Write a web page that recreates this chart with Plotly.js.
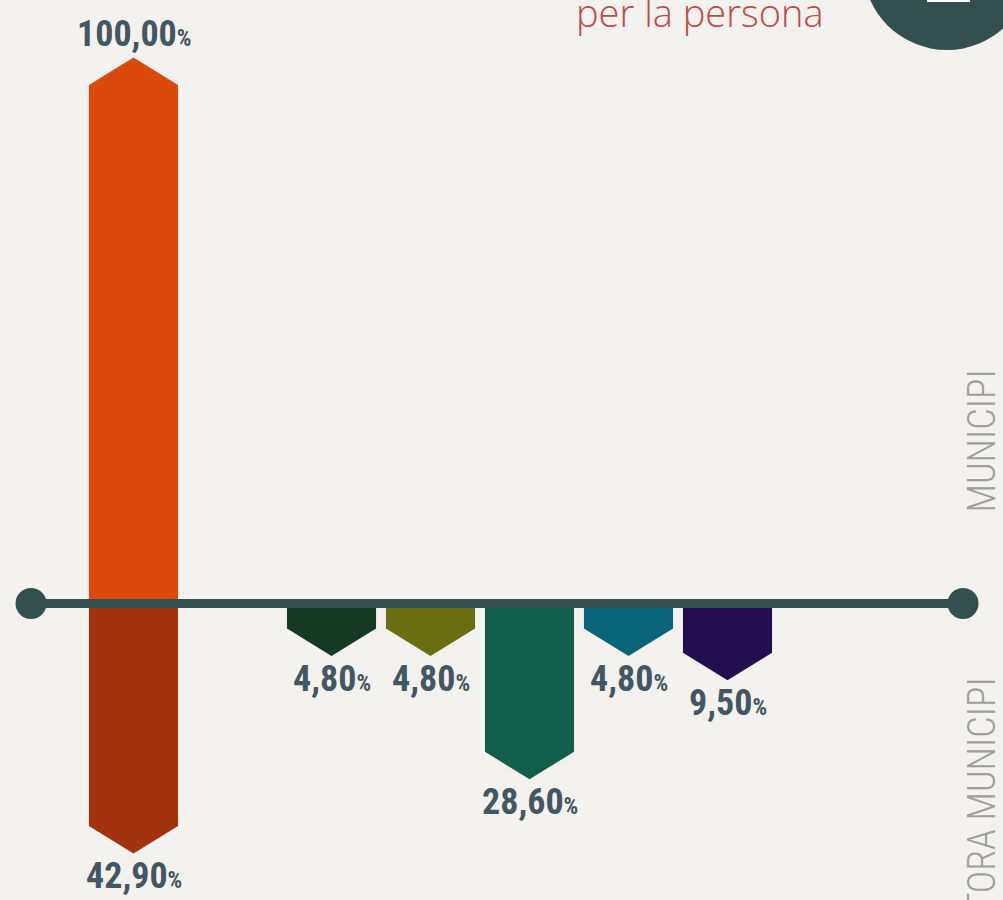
<!DOCTYPE html>
<html>
<head>
<meta charset="utf-8">
<script src="https://cdn.plot.ly/plotly-3.0.1.min.js"></script>
<style>
  html, body { margin: 0; padding: 0; background: #F3F2EE; }
  #chart { width: 1003px; height: 900px; }
</style>
</head>
<body>
<div id="chart"></div>
<script>
// ---- data ----
const slots = [0, 1, 2, 3, 4, 5, 6, 7, 8];
const topValues = [100.0, null, null, null, null, null, null, null, null];
const bottomValues = [42.9, null, 4.8, 4.8, 28.6, 4.8, 9.5, null, null];
const topColors = ['#DB4A0A'];
const bottomColors = ['#A3320E', null, '#143A24', '#6B6E10', '#115E4D', '#0A6479', '#230F50', null, null];
const titleText = 'per la persona';
const sideTop = 'MUNICIPI';
const sideBottom = 'TORA MUNICIPI';

// ---- drawing ----
const HALF = 0.45;   // half bar width in slot units
const TIP = 5.3;     // arrow tip height in value units
const labelColor = '#435663';
const COND = 'Roboto Condensed, Liberation Sans Narrow, DejaVu Sans, sans-serif';

function fmt(v) {
  return '<span style="font-stretch:condensed">' + v.toFixed(2).replace('.', ',') +
         '<span style="font-size:23px">%</span></span>';
}

function arrowTrace(c, v, dir, color) {
  const s = dir;
  return {
    type: 'scatter', mode: 'lines', fill: 'toself', fillcolor: color,
    line: { width: 0, color: color }, hoverinfo: 'skip', showlegend: false,
    x: [c - HALF, c - HALF, c, c + HALF, c + HALF, c - HALF],
    y: [0, s * v, s * (v + TIP), s * v, 0, 0]
  };
}

const traces = [];
const annotations = [];
const labelFont = { family: COND, size: 36, color: labelColor, weight: 700 };
slots.forEach((k, i) => {
  const tv = topValues[i];
  if (tv != null) {
    traces.push(arrowTrace(k, tv, 1, topColors[i]));
    annotations.push({
      x: k, y: tv + TIP, xref: 'x', yref: 'y', yanchor: 'bottom', xanchor: 'center',
      yshift: 1, showarrow: false, text: fmt(tv), font: labelFont
    });
  }
  const bv = bottomValues[i];
  if (bv != null) {
    traces.push(arrowTrace(k, bv, -1, bottomColors[i]));
    annotations.push({
      x: k, y: -(bv + TIP), xref: 'x', yref: 'y', yanchor: 'top', xanchor: 'center',
      yshift: 0, showarrow: false, text: fmt(bv), font: labelFont
    });
  }
});

// axis line with end dots
const xr = [-1.3485, 8.7828];
traces.push({
  type: 'scatter', mode: 'lines+markers', hoverinfo: 'skip', showlegend: false,
  x: [-1.035, 8.379], y: [0, 0],
  line: { color: '#344F50', width: 9 },
  marker: { color: '#344F50', size: 31 }
});

annotations.push({
  xref: 'paper', yref: 'paper', x: 826 / 1003, y: 1 + 16 / 900, xanchor: 'right', yanchor: 'top',
  showarrow: false, text: titleText,
  font: { family: 'Open Sans, sans-serif', size: 38, color: '#BF4A4A', weight: 300 }
});
annotations.push({
  xref: 'paper', yref: 'paper', x: 1 + 2 / 1003, y: 1 - 368 / 900, xanchor: 'right', yanchor: 'top',
  textangle: -90, showarrow: false,
  text: '<span style="font-stretch:condensed">' + sideTop + '</span>',
  font: { family: COND, size: 38, color: '#A09F9C', weight: 300 }
});
annotations.push({
  xref: 'paper', yref: 'paper', x: 1 + 2 / 1003, y: 1 - 676 / 900, xanchor: 'right', yanchor: 'top',
  textangle: -90, showarrow: false,
  text: '<span style="font-stretch:condensed">' + sideBottom + '</span>',
  font: { family: COND, size: 38, color: '#A09F9C', weight: 300 }
});

const layout = {
  width: 1003, height: 900,
  margin: { l: 0, r: 0, t: 0, b: 0 },
  paper_bgcolor: '#F3F2EE', plot_bgcolor: '#F3F2EE',
  xaxis: { range: xr, visible: false, fixedrange: true },
  yaxis: { range: [-57.18, 116.39], visible: false, fixedrange: true },
  annotations: annotations,
  shapes: [
    { type: 'circle', xref: 'paper', yref: 'paper', layer: 'above',
      x0: (947 - 84) / 1003, x1: (947 + 84) / 1003, y0: 1 - (-34 + 84) / 900, y1: 1 - (-34 - 84) / 900,
      fillcolor: '#344F50', line: { width: 0 } },
    { type: 'rect', xref: 'paper', yref: 'paper', layer: 'above',
      x0: 927 / 1003, x1: 970 / 1003, y0: 1 - 2 / 900, y1: 1.02,
      fillcolor: '#FFFFFF', line: { width: 0 } }
  ]
};

Plotly.newPlot('chart', traces, layout, { displayModeBar: false, staticPlot: true });
</script>
</body>
</html>
